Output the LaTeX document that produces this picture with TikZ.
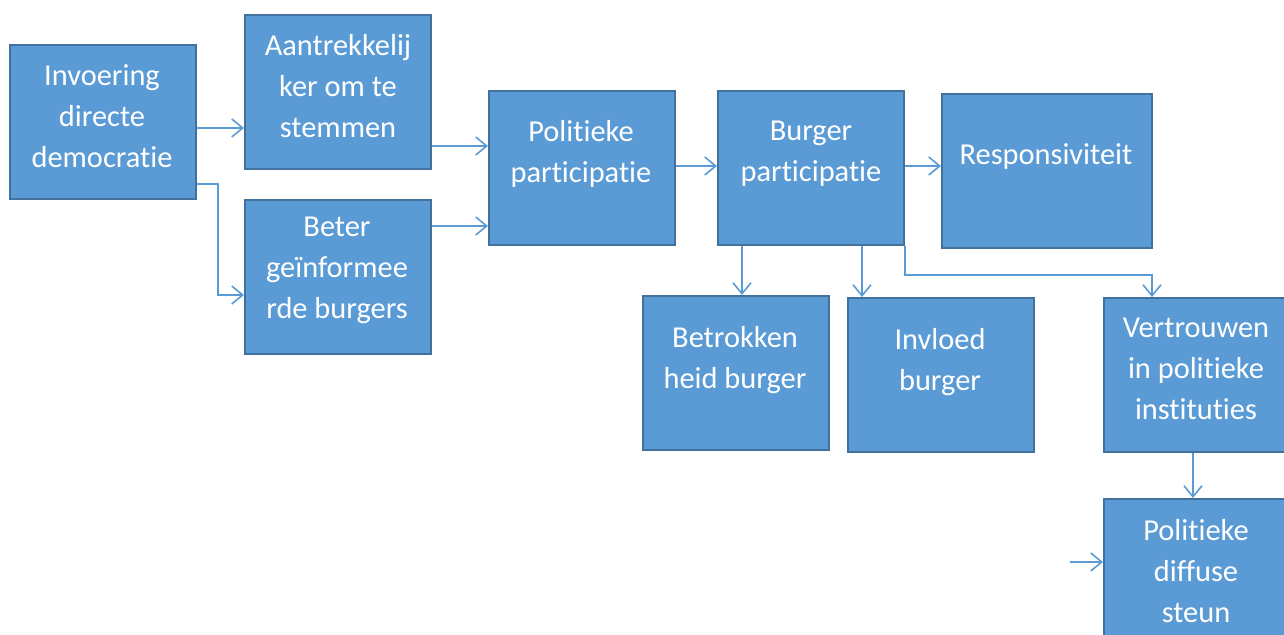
\documentclass[tikz,border=0pt]{standalone}
\usepackage{fontspec}
\setmainfont{Carlito}[Ligatures=NoCommon]
\usetikzlibrary{positioning,arrows.meta}
\definecolor{boxfill}{HTML}{5B9BD5}
\definecolor{boxline}{HTML}{41719C}

\begin{document}
\begin{tikzpicture}[x=0.5pt,y=-0.5pt,>={Straight Barb[length=5.5pt,width=9pt]},
  box/.style={rectangle,draw=boxline,fill=boxfill,line width=1pt,anchor=north west,
    inner sep=0,minimum width=93pt,minimum height=77pt},
  lbl/.style={text=white,align=center,inner sep=0,font=\fontsize{15.2}{20.5}\selectfont},
  arr/.style={->,draw=boxfill,line width=0.8pt}]
  \useasboundingbox (0,0) rectangle (1284,635);
  \clip (0,0) rectangle (1284,635);

  % boxes
  \node[box] (inv) at (9,44) {};
  \node[box] (aan) at (244,14) {};
  \node[box] (bet) at (244,199) {};
  \node[box] (pol) at (488,90) {};
  \node[box] (bur) at (717,90) {};
  \node[box,minimum width=105pt] (res) at (941,93) {};
  \node[box] (btr) at (642,295) {};
  \node[box] (inf) at (847,297) {};
  \node[box] (ver) at (1103,297) {};
  \node[box] (dif) at (1103,498) {};

  % texts
  \node[lbl] (inv-t) at (102,116) {Invoering\\directe\\democratie};
  \node[lbl] (aan-t) at (338,86) {Aantrekkelij\\ker om te\\stemmen};
  \node[lbl] (bet-t) at (337,270) {Beter\\geïnformee\\rde burgers};
  \node[lbl] (pol-t) at (581,154) {Politieke\\participatie};
  \node[lbl] (bur-t) at (811,154) {Burger\\participatie};
  \node[lbl] (res-t) at (1046,156) {Responsiviteit};
  \node[lbl] (btr-t) at (735,360) {Betrokken\\heid burger};
  \node[lbl] (inf-t) at (940,362) {Invloed\\burger};
  \node[lbl] (ver-t) at (1196,369) {Vertrouwen\\in politieke\\instituties};
  \node[lbl] (dif-t) at (1196,571) {Politieke\\diffuse\\steun};

  \coordinate (k1) at (218,295);
  \coordinate (k2) at (1152,275);
  \coordinate (free) at (1070,562);

  \path[every edge/.style={arr}]
     (inv.east |- 0,128) edge (aan.west |- 0,128)
     (aan.east |- 0,146) edge (pol.west |- 0,146)
     (bet.east |- 0,226) edge (pol.west |- 0,226)
     (pol.east |- 0,166) edge (bur.west |- 0,166)
     (bur.east |- 0,166) edge (res.west |- 0,166)
     (bur.south -| 742,0) edge (btr.north -| 742,0)
     (bur.south -| 862,0) edge (inf.north -| 862,0)
     (ver.south -| 1193,0) edge (dif.north -| 1193,0)
     (free) edge (dif.west |- free);
  \draw[arr] (inv.east |- 0,184) -| (k1) -- (bet.west |- k1);
  \draw[arr] (bur.south east) |- (k2) -- (ver.north -| k2);
\end{tikzpicture}
\end{document}
